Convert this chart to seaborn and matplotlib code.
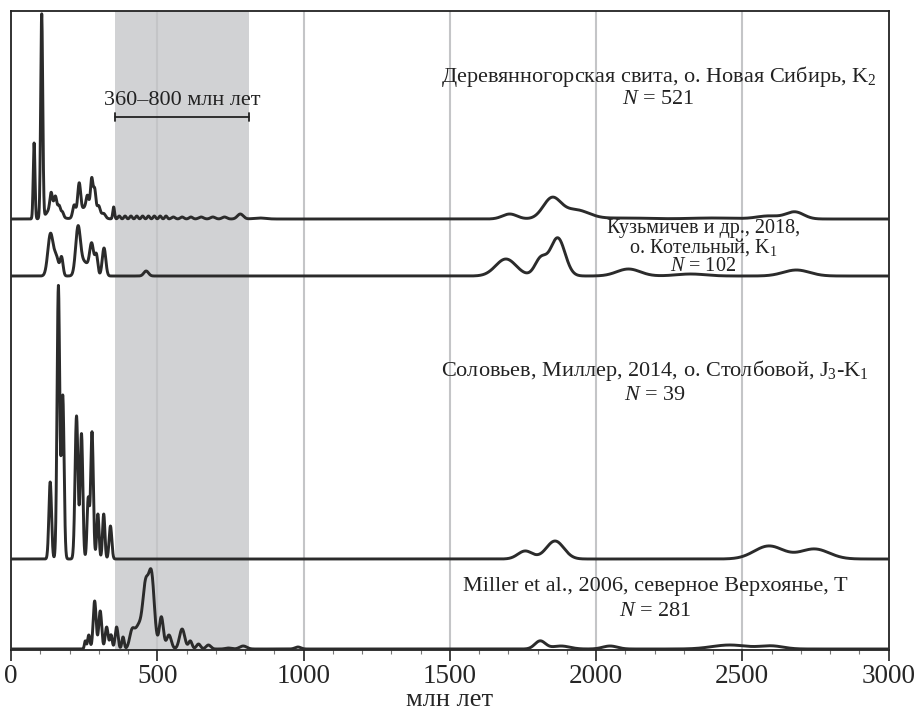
import numpy as np
import pandas as pd
import matplotlib
matplotlib.use("Agg")
import matplotlib.pyplot as plt
import seaborn as sns

# ---------------- data (peak components) ----------------
# Деревянногорская свита
d_ages = [79, 105, 145, 137, 152, 165, 176, 216, 233, 265, 261, 276, 286, 300, 317, 351,
          370, 390, 410, 430, 450, 470, 490, 510, 530, 555, 585, 615, 650, 690, 730, 784, 850,
          1705, 1849, 1930, 2100, 2400, 2590, 2680]
d_heights = [76, 204, 14, 14, 10, 6, 4, 12, 30, 14, 10, 28, 20, 8, 4, 12,
             3, 3, 3, 3, 3, 3, 3, 3, 3, 2, 2, 2, 2, 2, 2, 5, 1,
             5, 20, 9, 1, 1, 3, 7]
d_sigmas = [3, 3.5, 18, 4, 4, 4, 4, 5, 5, 25, 4, 4, 4, 5, 6, 3,
            4, 4, 4, 4, 4, 4, 4, 4, 4, 6, 6, 6, 8, 8, 8, 10, 20,
            25, 30, 45, 80, 80, 40, 30]

# Кузьмичев и др., 2018
k_ages = [135, 155, 173, 229, 250, 276, 292, 318, 462, 1692, 1811, 1869, 2111, 2324, 2685]
k_heights = [42, 18, 18, 45, 14, 30, 20, 28, 5, 17, 17, 38, 7, 2, 6]
k_sigmas = [9, 8, 5, 8, 15, 7, 5, 6, 8, 35, 20, 25, 40, 50, 45]

# Соловьев, Миллер, 2014
s_ages = [134, 162, 177, 224, 241, 264, 277, 297, 317, 340, 1758, 1860, 2591, 2747]
s_heights = [77, 273, 163, 143, 125, 60, 127, 45, 45, 33, 8, 18, 13, 10]
s_sigmas = [4.5, 4.5, 4.5, 5, 4.5, 4, 4.5, 4, 4, 4.5, 25, 30, 50, 50]

# Miller et al., 2006
m_ages = [254, 266, 286, 305, 327, 342, 361, 383, 413, 438, 460, 480, 514, 540, 585, 613,
          641, 675, 743, 794, 981, 1809, 1880, 2048, 2457, 2600]
m_heights = [8, 14, 48, 38, 22, 14, 22, 12, 14, 24, 52, 74, 32, 14, 20, 8,
             5, 4, 1, 3, 2, 8, 3, 3, 4, 3]
m_sigmas = [3, 4, 5, 5, 5, 4, 5, 4, 8, 15, 9, 10, 7, 8, 9, 6,
            7, 8, 10, 12, 10, 18, 30, 25, 60, 40]

xticks = [0, 500, 1000, 1500, 2000, 2500, 3000]
grid_lines = [500, 1000, 1500, 2000, 2500]
shade_range = [355, 815]

label_lines = [
    ["Деревянногорская свита, о. Новая Сибирь, K$_2$", "$N$ = 521"],
    ["Кузьмичев и др., 2018,", "о. Котельный, K$_1$", "$N$ = 102"],
    ["Соловьев, Миллер, 2014, о. Столбовой, J$_3$-K$_1$", "$N$ = 39"],
    ["Miller et al., 2006, северное Верхоянье, T", "$N$ = 281"],
]

# ---------------- layout ----------------
offsets = [431, 374, 91, 1]
label_x = [2213, 2367, 2203, 2203]
label_y = [[574, 551], [422, 403, 384], [280, 255], [63, 39]]
label_fs = [16, 14.5, 16, 16]

sns.set_theme(style="white")
plt.rcParams['font.family'] = ['Liberation Serif', 'DejaVu Serif']
plt.rcParams['mathtext.fontset'] = 'custom'
plt.rcParams['mathtext.rm'] = 'Liberation Serif'
plt.rcParams['mathtext.it'] = 'Liberation Serif:italic'

fig = plt.figure(figsize=(9.14, 7.13), dpi=100)
ax = fig.add_axes([11 / 914, 63 / 713, 877.5 / 914, 639 / 713])

x = np.linspace(0, 3000, 6001)


def curve(ages, heights, sigmas):
    a = np.asarray(ages, float)[:, None]
    h = np.asarray(heights, float)[:, None]
    s = np.asarray(sigmas, float)[:, None]
    return (h * np.exp(-0.5 * ((x[None, :] - a) / s) ** 2)).sum(axis=0)


ax.axvspan(shade_range[0], shade_range[1], color="#d1d2d4", zorder=0, lw=0)
for g in grid_lines:
    ax.axvline(g, color="#c4c5c7", lw=1.5, zorder=0.5)

series = [(d_ages, d_heights, d_sigmas), (k_ages, k_heights, k_sigmas),
          (s_ages, s_heights, s_sigmas), (m_ages, m_heights, m_sigmas)]
for (a, h, s), off in zip(series, offsets):
    df = pd.DataFrame({"age": x, "y": curve(a, h, s) + off})
    sns.lineplot(data=df, x="age", y="y", ax=ax, color="#2b2b2b", lw=2.1,
                 estimator=None, sort=False, zorder=3)

for lines, tx, ys, fs in zip(label_lines, label_x, label_y, label_fs):
    for txt, ty in zip(lines, ys):
        ax.text(tx, ty, txt, ha="center", va="center", fontsize=fs,
                color="#222222", zorder=4)

# bracket
ax.plot([shade_range[0], shade_range[1]], [533, 533], color="#222222", lw=1.3, zorder=4)
for xe in shade_range:
    ax.plot([xe, xe], [529, 537], color="#222222", lw=1.3, zorder=4)
ax.text(sum(shade_range) / 2, 550, "360–800 млн лет", ha="center", va="center",
        fontsize=16, color="#222222", zorder=4)

ax.set_xlim(0, 3000)
ax.set_ylim(0, 639)
ax.set_xticks(xticks)
ax.set_xticklabels([str(t) for t in xticks], fontsize=19.5)
ax.set_xticks(np.arange(0, 3001, 100), minor=True)
ax.set_yticks([])
ax.tick_params(axis="x", which="major", direction="out", length=8, width=1.2,
               color="#222222", bottom=True, pad=2)
ax.tick_params(axis="x", which="minor", direction="out", length=3, width=0.8,
               color="#777777", bottom=True)
ax.set_xlabel("млн лет", fontsize=19, labelpad=0)
ax.set_ylabel("")
for sp in ax.spines.values():
    sp.set_visible(True)
    sp.set_color("#222222")
    sp.set_linewidth(1.3)

fig.savefig("out.png", dpi=100)
